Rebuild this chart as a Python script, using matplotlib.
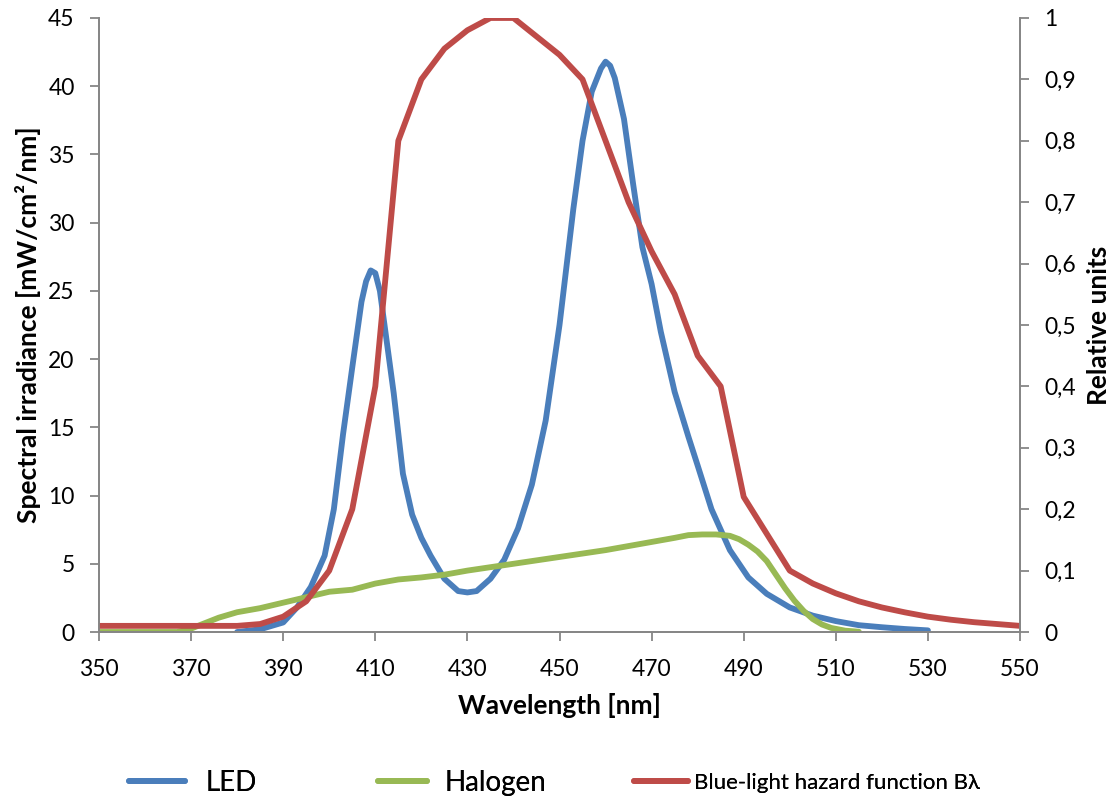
import matplotlib
matplotlib.use("Agg")
import matplotlib.pyplot as plt
from matplotlib.ticker import FuncFormatter, MultipleLocator

# LED spectrum (left axis, mW/cm2/nm)
led_nm = [380, 385, 390, 393, 396, 399, 401, 403, 405, 407, 408, 409, 410, 411, 412,
          414, 416, 418, 420, 422, 425, 428, 430, 432, 435, 438, 441, 444, 447, 450,
          453, 455, 457, 459, 460, 461, 462, 464, 466, 468, 470, 472, 475, 478, 480,
          483, 487, 491, 495, 500, 505, 510, 515, 520, 525, 530]
led_val = [0.0, 0.2, 0.7, 1.8, 3.3, 5.6, 9.0, 14.5, 19.4, 24.2, 25.7, 26.5, 26.3, 25.0, 22.5,
           17.5, 11.6, 8.6, 6.9, 5.6, 3.9, 3.0, 2.9, 3.0, 3.9, 5.3, 7.6, 10.8, 15.5, 22.5,
           31.0, 36.0, 39.6, 41.3, 41.8, 41.5, 40.6, 37.6, 32.8, 28.2, 25.5, 22.0, 17.6, 14.3, 12.2,
           9.0, 6.0, 4.0, 2.8, 1.8, 1.2, 0.8, 0.5, 0.35, 0.22, 0.12]

# Halogen spectrum (left axis)
hal_nm = [350, 367, 370, 373, 376, 380, 385, 390, 395, 400, 405, 410, 415, 420, 425,
          430, 435, 440, 445, 450, 455, 460, 465, 470, 475, 478, 481, 484, 487, 489,
          491, 493, 495, 497, 499, 501, 503, 505, 507, 509, 512, 515]
hal_val = [0.0, 0.0, 0.25, 0.65, 1.05, 1.45, 1.75, 2.15, 2.55, 2.95, 3.1, 3.55, 3.85, 4.0, 4.2,
           4.5, 4.75, 5.0, 5.25, 5.5, 5.75, 6.0, 6.3, 6.6, 6.9, 7.1, 7.15, 7.15, 7.05, 6.8,
           6.4, 5.9, 5.2, 4.2, 3.2, 2.3, 1.55, 0.95, 0.55, 0.3, 0.1, 0.02]

# blue-light hazard function (right axis, relative units)
blh_nm = [350, 355, 360, 365, 370, 375, 380, 385, 390, 395, 400, 405, 410, 415, 420,
          425, 430, 435, 440, 445, 450, 455, 460, 465, 470, 475, 480, 485, 490, 495,
          500, 505, 510, 515, 520, 525, 530, 535, 540, 545, 550]
blh_val = [0.01, 0.01, 0.01, 0.01, 0.01, 0.01, 0.01, 0.013, 0.025, 0.05, 0.1, 0.2, 0.4, 0.8, 0.9,
           0.95, 0.98, 1.0, 1.0, 0.97, 0.94, 0.9, 0.8, 0.7, 0.62, 0.55, 0.45, 0.4, 0.22, 0.16,
           0.1, 0.079, 0.063, 0.05, 0.04, 0.032, 0.025, 0.02, 0.016, 0.013, 0.01]

x_ticks = list(range(350, 551, 20))

BLUE = "#4A7EBB"
GREEN = "#98B954"
RED = "#BE4B48"
GREY = "#868686"
FONT = ["Lato", "DejaVu Sans"]

plt.rcParams["font.family"] = FONT

fig = plt.figure(figsize=(11.16, 7.99), dpi=100)
ax = fig.add_axes([0.0887, 0.209, 0.8253, 0.7685])
ax2 = ax.twinx()

l1, = ax.plot(led_nm, led_val, color=BLUE, lw=4.2, solid_capstyle="round", label="LED")
l2, = ax.plot(hal_nm, hal_val, color=GREEN, lw=4.2, solid_capstyle="round", label="Halogen")
l3, = ax2.plot(blh_nm, blh_val, color=RED, lw=4.2, solid_capstyle="round",
               label="Blue-light hazard function B\u03bb")

ax.set_xlim(350, 550)
ax.set_ylim(0, 45)
ax2.set_ylim(0, 1)
ax.set_xticks(x_ticks)
ax.yaxis.set_major_locator(MultipleLocator(5))
ax2.yaxis.set_major_locator(MultipleLocator(0.1))
ax2.yaxis.set_major_formatter(FuncFormatter(lambda v, p: ("%g" % round(v, 1)).replace(".", ",")))

for a in (ax, ax2):
    a.spines["top"].set_visible(False)
    for s in ("left", "right", "bottom"):
        a.spines[s].set_color(GREY)
        a.spines[s].set_linewidth(1.3)
    a.tick_params(colors=GREY, labelcolor="black", labelsize=16.5, length=6.5, width=1.3,
                  direction="out")
ax.tick_params(axis="x", pad=13)
ax.tick_params(axis="y", pad=11)
ax2.tick_params(axis="y", pad=11)

ax.set_xlabel("Wavelength [nm]", fontsize=19, fontweight="bold", labelpad=9)
ax.set_ylabel("Spectral irradiance [mW/cm\u00b2/nm]", fontsize=19, fontweight="bold", labelpad=5)
ax2.set_ylabel("Relative units", fontsize=19, fontweight="bold", labelpad=8)

# one legend per entry, matching the uneven spacing of the original
leg_specs = [(l1, 0.1156, 20, 2.0, 0.75),
             (l2, 0.3387, 20, 1.75, 0.65),
             (l3, 0.5681, 16, 2.43, 0.27)]
for line, x0, size, hl, pad in leg_specs:
    lg = fig.legend(handles=[line], loc="center left", bbox_to_anchor=(x0, 0.02),
                    frameon=False, borderpad=0, borderaxespad=0, handlelength=hl,
                    handletextpad=pad, prop={"family": FONT, "size": size})
    fig.add_artist(lg)

fig.savefig("out.png", dpi=100)
